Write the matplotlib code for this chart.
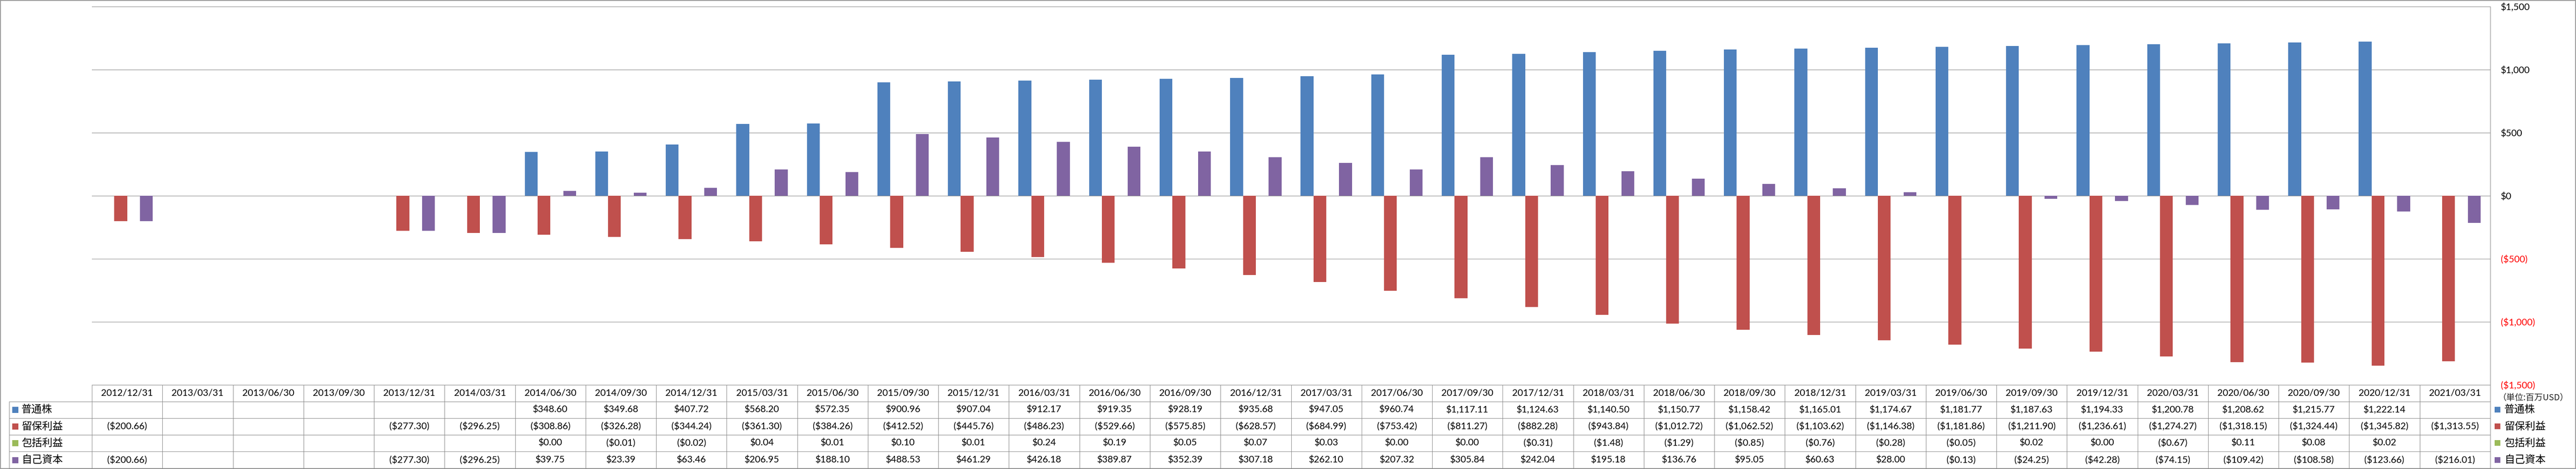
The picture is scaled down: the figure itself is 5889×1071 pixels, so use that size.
import numpy as np
import matplotlib
matplotlib.use("Agg")
import matplotlib.pyplot as plt
from matplotlib.lines import Line2D
from matplotlib.patches import Rectangle

# ---------------- data ----------------
dates = ["2012/12/31", "2013/03/31", "2013/06/30", "2013/09/30", "2013/12/31",
         "2014/03/31", "2014/06/30", "2014/09/30", "2014/12/31", "2015/03/31",
         "2015/06/30", "2015/09/30", "2015/12/31", "2016/03/31", "2016/06/30",
         "2016/09/30", "2016/12/31", "2017/03/31", "2017/06/30", "2017/09/30",
         "2017/12/31", "2018/03/31", "2018/06/30", "2018/09/30", "2018/12/31",
         "2019/03/31", "2019/06/30", "2019/09/30", "2019/12/31", "2020/03/31",
         "2020/06/30", "2020/09/30", "2020/12/31", "2021/03/31"]

series_names = ["普通株", "留保利益", "包括利益", "自己資本"]

common_stock = [None, None, None, None, None, None,
                348.60, 349.68, 407.72, 568.20, 572.35, 900.96, 907.04, 912.17,
                919.35, 928.19, 935.68, 947.05, 960.74, 1117.11, 1124.63, 1140.50,
                1150.77, 1158.42, 1165.01, 1174.67, 1181.77, 1187.63, 1194.33,
                1200.78, 1208.62, 1215.77, 1222.14, None]

retained_earnings = [-200.66, None, None, None, -277.30, -296.25,
                     -308.86, -326.28, -344.24, -361.30, -384.26, -412.52, -445.76,
                     -486.23, -529.66, -575.85, -628.57, -684.99, -753.42, -811.27,
                     -882.28, -943.84, -1012.72, -1062.52, -1103.62, -1146.38,
                     -1181.86, -1211.90, -1236.61, -1274.27, -1318.15, -1324.44,
                     -1345.82, -1313.55]

comprehensive_income = [None, None, None, None, None, None,
                        0.00, -0.01, -0.02, 0.04, 0.01, 0.10, 0.01, 0.24, 0.19,
                        0.05, 0.07, 0.03, 0.00, 0.00, -0.31, -1.48, -1.29, -0.85,
                        -0.76, -0.28, -0.05, 0.02, 0.00, -0.67, 0.11, 0.08, 0.02,
                        None]

equity = [-200.66, None, None, None, -277.30, -296.25,
          39.75, 23.39, 63.46, 206.95, 188.10, 488.53, 461.29, 426.18, 389.87,
          352.39, 307.18, 262.10, 207.32, 305.84, 242.04, 195.18, 136.76, 95.05,
          60.63, 28.00, -0.13, -24.25, -42.28, -74.15, -109.42, -108.58,
          -123.66, -216.01]

y_ticks = [1500, 1000, 500, 0, -500, -1000, -1500]
unit_label = "（単位:百万USD）"

# ---------------- style ----------------
colors = ["#4F81BD", "#C0504D", "#9BBB59", "#8064A2"]
grid_c = "#868686"
LAT = ["Lato", "Noto Sans CJK JP", "DejaVu Sans"]
CJK = ["Noto Sans CJK JP", "DejaVu Sans"]

FW, FH = 5889, 1071
L, R, T, B = 210, 5693, 15, 879
row_h = [879, 917, 955, 993, 1031, 1070]
label_left = 21

fig = plt.figure(figsize=(FW / 100, FH / 100), dpi=100)
fig.patch.set_facecolor("white")

ax = fig.add_axes([L / FW, 1 - B / FH, (R - L) / FW, (B - T) / FH])
n = len(dates)
x = np.arange(n)
bw = 1 / 5.5
all_series = [common_stock, retained_earnings, comprehensive_income, equity]
for k, s in enumerate(all_series):
    vals = np.array([np.nan if v is None else v for v in s], dtype=float)
    ax.bar(x + (k - 1.5) * bw, vals, width=bw, color=colors[k], linewidth=0, zorder=3)

ax.set_xlim(-0.5, n - 0.5)
ax.set_ylim(-1500, 1500)
ax.set_yticks(y_ticks)


def money(v, dec=0):
    s = f"${abs(v):,.{dec}f}"
    return f"({s})" if v < 0 else s


ax.set_yticklabels([money(v) for v in y_ticks])
ax.yaxis.tick_right()
ax.tick_params(axis="y", length=0, pad=17, labelsize=15.5)
for lab, v in zip(ax.get_yticklabels(), y_ticks):
    lab.set_color("#FF0000" if v < 0 else "black")
    lab.set_family(LAT)
ax.set_xticks([])
for sp in ["top", "left", "bottom"]:
    ax.spines[sp].set_visible(False)
ax.spines["right"].set_color(grid_c)
ax.spines["right"].set_linewidth(0.75)
ax.yaxis.grid(True, color=grid_c, linewidth=0.75, zorder=0)
ax.set_axisbelow(True)
ax.patch.set_alpha(0)

# ---------------- table overlay (pixel coordinates) ----------------
ov = fig.add_axes([0, 0, 1, 1], zorder=5)
ov.set_xlim(0, FW)
ov.set_ylim(FH, 0)
ov.axis("off")
ov.patch.set_alpha(0)

W = (R - L) / n
lw = 0.75
# horizontal lines
ov.add_line(Line2D([L, R], [row_h[0], row_h[0]], color=grid_c, lw=lw))
for yy in row_h[1:]:
    ov.add_line(Line2D([label_left, R], [yy, yy], color=grid_c, lw=lw))
# vertical lines
ov.add_line(Line2D([label_left, label_left], [row_h[1], row_h[-1]], color=grid_c, lw=lw))
for i in range(n + 1):
    xx = L + i * W
    ov.add_line(Line2D([xx, xx], [row_h[0], row_h[-1]], color=grid_c, lw=lw))

# header dates
for i, d in enumerate(dates):
    ov.text(L + (i + 0.5) * W, (row_h[0] + row_h[1]) / 2, d, ha="center", va="center",
            fontsize=15.5, family=LAT, color="black")

# data rows
for k, s in enumerate(all_series):
    yc = (row_h[k + 1] + row_h[k + 2]) / 2
    for i, v in enumerate(s):
        if v is None:
            continue
        ov.text(L + (i + 0.5) * W, yc, money(v, 2), ha="center", va="center",
                fontsize=15.5, family=LAT, color="black")
    # row label with swatch
    ov.add_patch(Rectangle((28, yc - 7), 14, 14, color=colors[k], lw=0))
    ov.text(49, yc, series_names[k], ha="left", va="center", fontsize=17,
            family=CJK, color="black")
    # right legend
    ov.add_patch(Rectangle((5703, yc - 7), 13, 13, color=colors[k], lw=0))
    ov.text(5725, yc, series_names[k], ha="left", va="center", fontsize=17,
            family=CJK, color="black")

ov.text(5710, 908, unit_label, ha="left", va="center", fontsize=14,
        family=CJK, color="#222222")

# outer border
ov.add_patch(Rectangle((0.5, 0.5), FW - 1.5, FH - 1.5, fill=False, edgecolor=grid_c, lw=1.2))

fig.savefig("out.png", dpi=100, facecolor="white")
